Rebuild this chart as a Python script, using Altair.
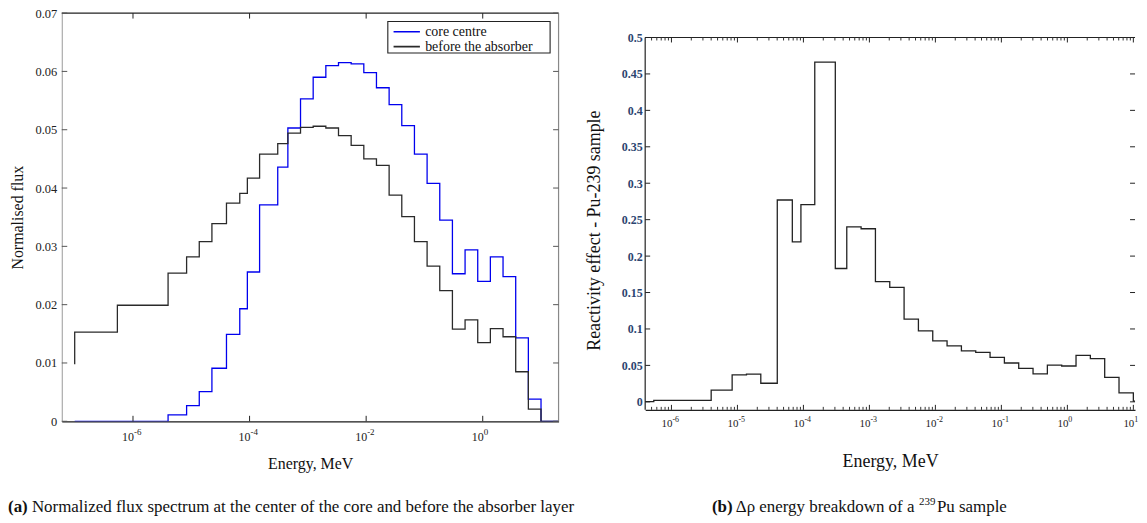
import altair as alt
import pandas as pd

FONT = "Liberation Serif"

# Group structure (lower boundaries, MeV) and top boundary
e_lower = [1e-7, 5.4e-7, 4.0e-6, 8.315e-6, 1.371e-5, 2.26e-5, 4.017e-5, 6.79e-5,
           9.166e-5, 1.486e-4, 3.043e-4, 4.54e-4, 7.485e-4, 1.234e-3, 2.035e-3,
           3.355e-3, 5.531e-3, 9.119e-3, 1.503e-2, 2.479e-2, 4.087e-2, 6.738e-2,
           0.1111, 0.1832, 0.302, 0.4979, 0.8208, 1.353, 2.231, 3.679, 6.065, 10.0]
e_top = 19.64

series_names = ["core centre", "before the absorber"]
flux_core = [0.0, 0.0, 0.0011, 0.0027, 0.0051, 0.0091, 0.0149, 0.0193,
             0.0256, 0.0371, 0.0436, 0.0503, 0.0553, 0.0590, 0.0610, 0.0615,
             0.0613, 0.0598, 0.0572, 0.0543, 0.0507, 0.0458, 0.0408, 0.0345,
             0.0253, 0.0294, 0.0240, 0.0282, 0.0248, 0.0143, 0.0038, 0.0]
flux_absorber = [0.0153, 0.0199, 0.0254, 0.0282, 0.0308, 0.0339, 0.0374, 0.0391,
                 0.0417, 0.0458, 0.0476, 0.0494, 0.0504, 0.0506, 0.0503, 0.0490,
                 0.0473, 0.0450, 0.0439, 0.0388, 0.0351, 0.0308, 0.0266, 0.0224,
                 0.0158, 0.0174, 0.0135, 0.0159, 0.0145, 0.0085, 0.0021, 0.0]
flux_absorber_first = 0.0098

drho = [0.0003, 0.002, 0.016, 0.037, 0.038, 0.0255, 0.277, 0.2195,
        0.2705, 0.4663, 0.183, 0.240, 0.2375, 0.165, 0.157, 0.1134,
        0.0974, 0.0837, 0.0769, 0.070, 0.0679, 0.061, 0.0533, 0.046,
        0.0383, 0.0505, 0.0492, 0.0638, 0.0592, 0.0337, 0.0123, 0.001]

xticks_a = [1e-6, 1e-4, 1e-2, 1.0]
xexp_a = ["-6", "-4", "-2", "0"]
yticks_a = [0, 0.01, 0.02, 0.03, 0.04, 0.05, 0.06, 0.07]
xticks_b = [1e-6, 1e-5, 1e-4, 1e-3, 1e-2, 1e-1, 1.0, 10.0]
xexp_b = ["-6", "-5", "-4", "-3", "-2", "-1", "0", "1"]
yticks_b = [0, 0.05, 0.1, 0.15, 0.2, 0.25, 0.3, 0.35, 0.4, 0.45, 0.5]

XDOM_A = [6e-8, 20]
YDOM_A = [0, 0.07]
XDOM_B = [4e-7, 10.6]
YDOM_B = [-0.011, 0.5]
decades_b = [1e-7, 1e-6, 1e-5, 1e-4, 1e-3, 1e-2, 1e-1, 1.0, 10.0]
minor_b = [m * d for d in decades_b for m in range(2, 10)
           if XDOM_B[0] < m * d < XDOM_B[1]]

caption_a_tag = "(a)"
caption_a_text = "Normalized flux spectrum at the center of the core and before the absorber layer"
caption_b_tag = "(b)"
caption_b_text1 = "\u0394\u03c1 energy breakdown of a"
caption_b_sup = "239"
caption_b_text2 = "Pu sample"


def step_rows(name, values, first=None):
    rows = []
    if first is not None:
        rows.append({"series": name, "E": e_lower[0], "v": first, "k": -1})
    for k, (e, v) in enumerate(zip(e_lower, values)):
        rows.append({"series": name, "E": e, "v": v, "k": k})
    rows.append({"series": name, "E": e_top, "v": values[-1], "k": len(values)})
    return rows


df_a = pd.DataFrame(step_rows(series_names[0], flux_core)
                    + step_rows(series_names[1], flux_absorber, flux_absorber_first))
df_b = pd.DataFrame(step_rows("drho", drho))
one = pd.DataFrame({"z": [0]})
NOVIEW = alt.ViewBackground(stroke="transparent", strokeWidth=0)

# ---------------- Panel (a) ----------------
W_A, H_A = 499, 410
xa = alt.Scale(type="log", domain=XDOM_A, nice=False)
ya = alt.Scale(domain=YDOM_A, nice=False, zero=False)
ax_xa = alt.Axis(title="Energy, MeV", labels=False, ticks=False, tickSize=0, grid=False,
                 domainColor="#1a1a1a", domainWidth=1.2, titleFont=FONT, titleFontSize=16,
                 titleFontWeight="normal", titleColor="#111", titlePadding=34)
ax_ya = alt.Axis(title="Normalised flux", values=yticks_a, format="~g", ticks=False, tickSize=0,
                 grid=False, domainColor="#999", labelFont=FONT, labelFontSize=12.5,
                 labelColor="#222", labelPadding=5, labelOverlap=False, titleFont=FONT,
                 titleFontSize=16, titleFontWeight="normal", titleColor="#111", titlePadding=10)
X_A = lambda: alt.X("E:Q", scale=xa, axis=ax_xa)
Y_A = lambda: alt.Y("v:Q", scale=ya, axis=ax_ya)

legend_box = alt.Chart(one).mark_rect(fill="white", stroke="#222", strokeWidth=1.1).encode(
    x=alt.value(327.5), x2=alt.value(490.5), y=alt.value(8.4), y2=alt.value(40))

lines_a = alt.Chart(df_a).mark_line(interpolate="step-after", strokeWidth=1.3, clip=True).encode(
    x=X_A(), y=Y_A(),
    color=alt.Color("series:N", scale=alt.Scale(domain=series_names, range=["#0000ee", "#2a2a2a"]),
                    legend=alt.Legend(
                        title=None, orient="none", legendX=328, legendY=8.4,
                        strokeColor="transparent", fillColor="transparent", padding=4,
                        symbolType="stroke", symbolSize=700, symbolStrokeWidth=1.6,
                        clipHeight=12.6, rowPadding=0, labelFont=FONT, labelFontSize=14,
                        labelColor="#111", labelOffset=4)),
    order=alt.Order("k:Q"),
)

top_a = alt.Chart(one).mark_rule(color="#222", strokeWidth=1.2).encode(
    x=alt.value(0), x2=alt.value(W_A), y=alt.value(0))
right_a = alt.Chart(one).mark_rule(color="#888", strokeWidth=1.2).encode(
    x=alt.value(W_A), y=alt.value(0), y2=alt.value(H_A))

tdf_a = pd.DataFrame({"E": xticks_a, "exp": xexp_a, "base": ["10"] * len(xticks_a)})
ydf_a = pd.DataFrame({"v": yticks_a})

xt_a_bot = alt.Chart(tdf_a).mark_rule(color="#222").encode(
    x=X_A(), y=alt.value(H_A), y2=alt.value(H_A - 5.5))
xt_a_top = alt.Chart(tdf_a).mark_rule(color="#222").encode(
    x=X_A(), y=alt.value(0), y2=alt.value(5.5))
yt_a_l = alt.Chart(ydf_a).mark_rule(color="#555").encode(
    y=Y_A(), x=alt.value(0), x2=alt.value(5.5))
yt_a_r = alt.Chart(ydf_a).mark_rule(color="#555").encode(
    y=Y_A(), x=alt.value(W_A - 5.5), x2=alt.value(W_A))
xl_a_base = alt.Chart(tdf_a).mark_text(font=FONT, fontSize=12, align="right", baseline="middle",
                                       dx=1, color="#222").encode(
    x=X_A(), y=alt.value(H_A + 15.4), text="base:N")
xl_a_exp = alt.Chart(tdf_a).mark_text(font=FONT, fontSize=9, align="left", baseline="middle",
                                      dx=1, color="#222").encode(
    x=X_A(), y=alt.value(H_A + 10.4), text="exp:N")

panel_a = alt.layer(legend_box, lines_a, top_a, right_a, xt_a_bot, xt_a_top, yt_a_l, yt_a_r,
                    xl_a_base, xl_a_exp).properties(width=W_A, height=H_A, view=NOVIEW)

# ---------------- Panel (b) ----------------
OFF_B = 24.5            # plot frame starts this far below panel (a)'s top
W_B, H_B = 492, 374
H_BT = H_B + OFF_B
xb = alt.Scale(type="log", domain=XDOM_B, nice=False)
yb = alt.Scale(domain=YDOM_B, nice=False, zero=False, range=[H_BT, OFF_B])
ax_xb = alt.Axis(title="Energy, MeV", labels=False, ticks=False, tickSize=0, grid=False,
                 domainColor="#222", domainWidth=1.2, titleFont=FONT, titleFontSize=18,
                 titleFontWeight="normal", titleColor="#111", titlePadding=43)
ax_yb = alt.Axis(title="Reactivity effect - Pu-239 sample", values=yticks_b, format="~g",
                 ticks=False, tickSize=0, grid=False, domain=False,
                 labelFont=FONT, labelFontSize=12, labelFontWeight="bold", labelColor="#2b4470",
                 labelPadding=3, labelOverlap=False, titleFont=FONT, titleFontSize=18,
                 titleFontWeight="normal", titleColor="#111", titlePadding=18, titleY=218)
X_B = lambda: alt.X("E:Q", scale=xb, axis=ax_xb)
Y_B = lambda: alt.Y("v:Q", scale=yb, axis=ax_yb)

line_b = alt.Chart(df_b).mark_line(interpolate="step-after", strokeWidth=1.3, clip=True,
                                   color="#222").encode(
    x=X_B(), y=Y_B(), order=alt.Order("k:Q"))

top_b = alt.Chart(one).mark_rule(color="#222", strokeWidth=1.2).encode(
    x=alt.value(0), x2=alt.value(W_B), y=alt.value(OFF_B))
left_b = alt.Chart(one).mark_rule(color="#222", strokeWidth=1.2).encode(
    x=alt.value(0), y=alt.value(OFF_B), y2=alt.value(H_BT))

tdf_b = pd.DataFrame({"E": xticks_b, "exp": xexp_b, "base": ["10"] * len(xticks_b)})
mdf_b = pd.DataFrame({"E": minor_b})
ydf_b = pd.DataFrame({"v": yticks_b})

xt_b_bot = alt.Chart(tdf_b).mark_rule(color="#222").encode(
    x=X_B(), y=alt.value(H_BT), y2=alt.value(H_BT - 5))
xt_b_top = alt.Chart(tdf_b).mark_rule(color="#222").encode(
    x=X_B(), y=alt.value(OFF_B), y2=alt.value(OFF_B + 5))
xm_b_bot = alt.Chart(mdf_b).mark_rule(color="#333").encode(
    x=X_B(), y=alt.value(H_BT), y2=alt.value(H_BT - 3))
xm_b_top = alt.Chart(mdf_b).mark_rule(color="#333").encode(
    x=X_B(), y=alt.value(OFF_B), y2=alt.value(OFF_B + 3))
yt_b_l = alt.Chart(ydf_b).mark_rule(color="#222").encode(
    y=Y_B(), x=alt.value(0), x2=alt.value(5))
yt_b_r = alt.Chart(ydf_b).mark_rule(color="#222").encode(
    y=Y_B(), x=alt.value(W_B - 5), x2=alt.value(W_B))
xl_b_base = alt.Chart(tdf_b).mark_text(font=FONT, fontSize=11, align="right", baseline="middle",
                                       dx=1, color="#222").encode(
    x=X_B(), y=alt.value(H_BT + 14.3), text="base:N")
xl_b_exp = alt.Chart(tdf_b).mark_text(font=FONT, fontSize=8, align="left", baseline="middle",
                                      dx=1, color="#222").encode(
    x=X_B(), y=alt.value(H_BT + 10), text="exp:N")

panel_b = alt.layer(line_b, top_b, left_b, xt_b_bot, xt_b_top, xm_b_bot, xm_b_top,
                    yt_b_l, yt_b_r, xl_b_base, xl_b_exp).properties(width=W_B, height=H_BT,
                                                                     view=NOVIEW)

# ---------------- Captions ----------------
def cap_text(txt, x, y=8, size=17, weight="normal"):
    return alt.Chart(one).mark_text(font=FONT, fontSize=size, fontWeight=weight, align="left",
                                    baseline="middle", color="#111").encode(
        x=alt.value(x), y=alt.value(y), text=alt.value(txt))

CA = -54
CB = 653
captions = alt.layer(
    cap_text(caption_a_tag, CA, weight="bold"),
    cap_text(caption_a_text, CA + 24),
    cap_text(caption_b_tag, CB, weight="bold"),
    cap_text(caption_b_text1, CB + 24),
    cap_text(caption_b_sup, CB + 208, y=3, size=11),
    cap_text(caption_b_text2, CB + 226),
).properties(width=1000, height=16, view=NOVIEW)

chart = alt.vconcat(
    alt.hconcat(panel_a, panel_b, spacing=26),
    captions,
    spacing=25,
).properties(
    padding={"left": 0, "top": -2, "right": 0, "bottom": 0},
    background="white",
).configure_view(stroke="transparent", strokeWidth=0).configure(font=FONT)

chart.save("out.html", embed_options={"renderer": "svg", "actions": False})
